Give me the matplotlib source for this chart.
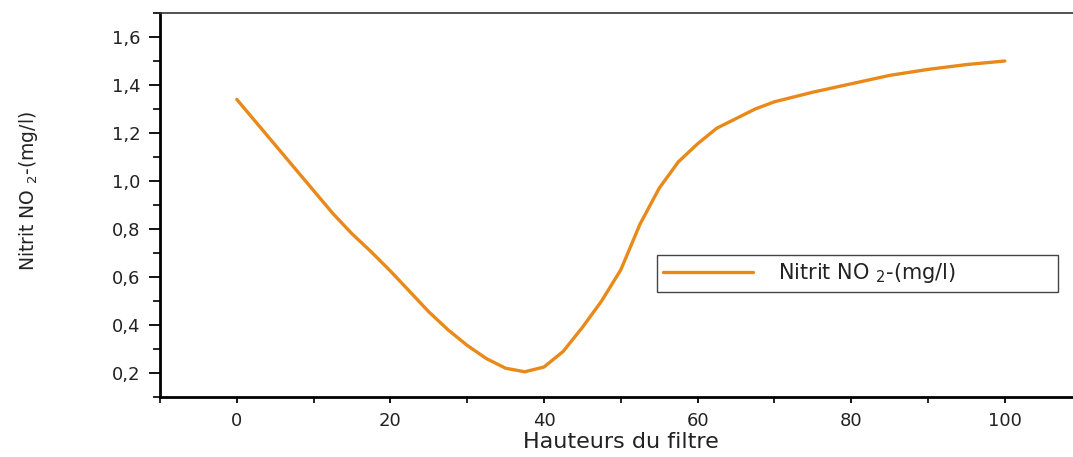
import matplotlib
matplotlib.use("Agg")
import matplotlib.pyplot as plt
from matplotlib.ticker import MultipleLocator, FuncFormatter

# Data
hauteurs = [0, 2.5, 5, 7.5, 10, 12.5, 15, 17.5, 20, 22.5, 25, 27.5, 30, 32.5, 35, 37.5,
            40, 42.5, 45, 47.5, 50, 52.5, 55, 57.5, 60, 62.5, 65, 67.5, 70, 75, 80, 85, 90, 95, 100]
nitrit = [1.34, 1.245, 1.15, 1.055, 0.96, 0.865, 0.78, 0.705, 0.625, 0.54, 0.455, 0.38, 0.315, 0.26, 0.22, 0.205,
          0.225, 0.29, 0.39, 0.50, 0.63, 0.82, 0.97, 1.08, 1.155, 1.22, 1.26, 1.30, 1.33, 1.37, 1.405, 1.44, 1.465, 1.485, 1.50]

xlabel = "Hauteurs du filtre"
ylabel = "Nitrit NO $_{2}$-(mg/l)"
legend_label = "Nitrit NO $_{2}$-(mg/l)"

plt.rcParams['font.family'] = ['DejaVu Sans']
plt.rcParams['mathtext.fontset'] = 'dejavusans'

fig = plt.figure(figsize=(10.73, 4.57), dpi=100)
ax = fig.add_axes([160/1073, 1-397/457, 921.6/1073, (397-13)/457])

ax.plot(hauteurs, nitrit, color='#E8891A', lw=2.4, solid_capstyle='round',
        solid_joinstyle='round', label=legend_label)

ax.set_xlim(-10, 110)
ax.set_ylim(0.1, 1.7)
ax.xaxis.set_major_locator(MultipleLocator(20))
ax.xaxis.set_minor_locator(MultipleLocator(10))
ax.yaxis.set_major_locator(MultipleLocator(0.2))
ax.yaxis.set_minor_locator(MultipleLocator(0.1))
ax.yaxis.set_major_formatter(FuncFormatter(lambda v, p: f"{v:.1f}".replace('.', ',')))
ax.xaxis.set_major_formatter(FuncFormatter(lambda v, p: f"{v:.0f}"))

ax.tick_params(axis='both', which='both', direction='out', colors='black', labelsize=13)
for lab in ax.get_xticklabels() + ax.get_yticklabels():
    lab.set_color('#222222')
ax.tick_params(axis='y', which='major', length=8, width=1.3, pad=6)
ax.tick_params(axis='y', which='minor', length=5, width=1.2)
ax.tick_params(axis='x', which='major', length=4, width=1.3, pad=7)
ax.tick_params(axis='x', which='minor', length=4, width=1.2)

for s in ['left', 'bottom']:
    ax.spines[s].set_linewidth(2)
    ax.spines[s].set_color('black')
ax.spines['top'].set_linewidth(1.2)
ax.spines['top'].set_color('#333333')
ax.spines['right'].set_visible(False)

ax.set_xlabel(xlabel, fontsize=16, labelpad=1, color='#222222')
ax.set_ylabel(ylabel, fontsize=13.5, color='#222222', va='center')
ax.yaxis.set_label_coords((28 - 160) / 921.6, (397 - 191) / 384)

x0 = (657 - 160) / 921.6
x1 = (1058 - 160) / 921.6
y1 = (397 - 255) / 384
y0 = (397 - 289) / 384
leg = ax.legend(loc='upper left', bbox_to_anchor=(x0, y0, x1 - x0, y1 - y0), mode='expand',
                fontsize=15, frameon=True, fancybox=False, framealpha=1,
                edgecolor='#444444', handlelength=4.3, handletextpad=1.2,
                borderpad=0.3, borderaxespad=0)
leg.get_frame().set_linewidth(1.0)
for t in leg.get_texts():
    t.set_color('#222222')

fig.savefig('out.png', dpi=100)
